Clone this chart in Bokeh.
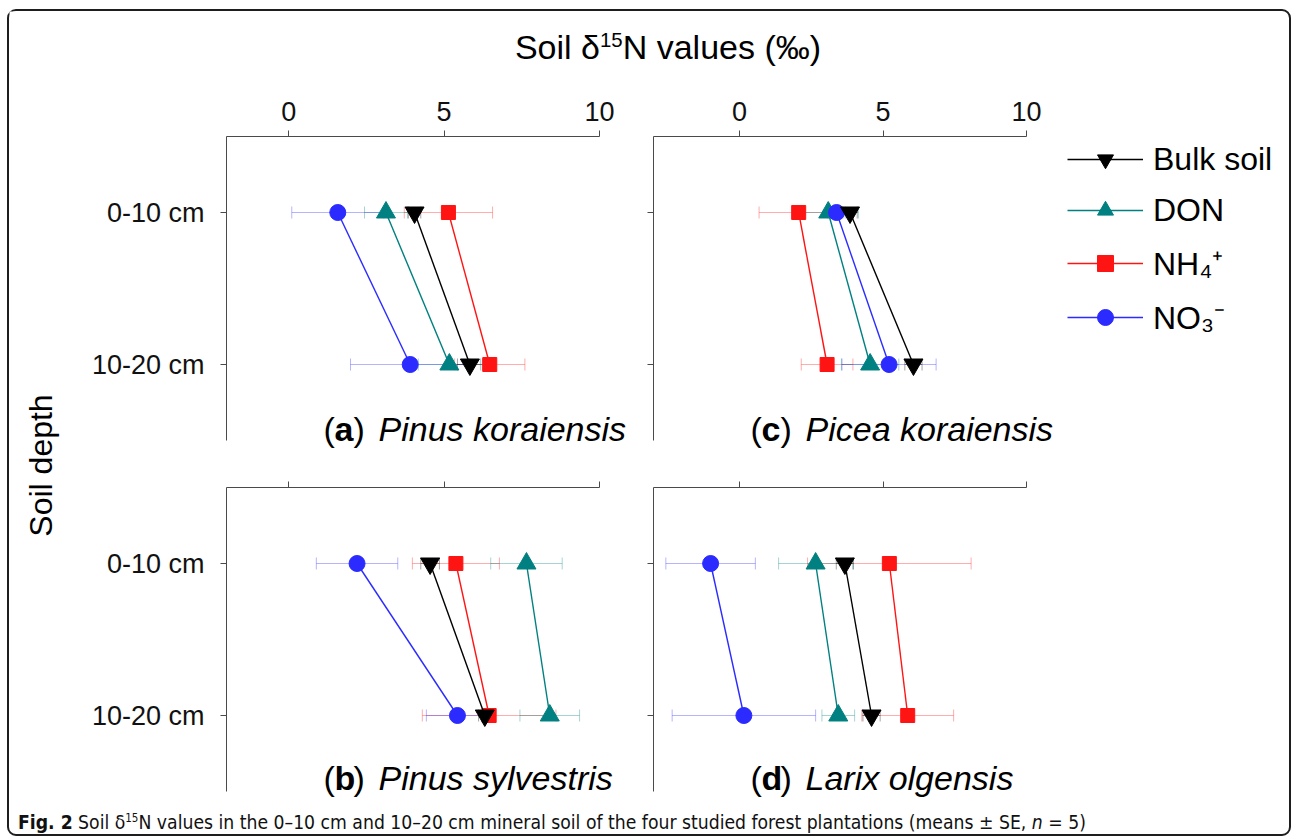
import math
from bokeh.plotting import figure
from bokeh.models import (Range1d, FixedTicker, ColumnDataSource, Whisker,
                          TeeHead, Label, Legend, LegendItem, Div)
from bokeh.layouts import column, row
from bokeh.embed import file_html
from bokeh.resources import INLINE

# ---------------- data ----------------
depths = ["0-10 cm", "10-20 cm"]
x_ticks = [0, 5, 10]
series_names = ["Bulk soil", "DON", "NH\u2084\u207a", "NO\u2083\u207b"]
series_colors = ["#000000", "#008080", "#ff1414", "#2b2bff"]
series_markers = ["inverted_triangle", "triangle", "square", "circle"]
marker_sizes = [19, 19, 14, 16]

# (a) Pinus koraiensis  -- [0-10 cm, 10-20 cm] means and SE
a_bulk, a_bulk_se = [4.05, 5.83], [0.20, 0.40]
a_don, a_don_se = [3.13, 5.17], [0.69, 1.00]
a_nh4, a_nh4_se = [5.14, 6.47], [1.42, 1.13]
a_no3, a_no3_se = [1.58, 3.91], [1.48, 1.92]
# (b) Pinus sylvestris
b_bulk, b_bulk_se = [4.55, 6.31], [0.30, 0.20]
b_don, b_don_se = [7.65, 8.40], [1.15, 0.96]
b_nh4, b_nh4_se = [5.38, 6.45], [1.40, 2.15]
b_no3, b_no3_se = [2.20, 5.43], [1.31, 1.00]
# (c) Picea koraiensis
c_bulk, c_bulk_se = [3.85, 6.06], [0.25, 0.30]
c_don, c_don_se = [3.09, 4.55], [1.05, 1.00]
c_nh4, c_nh4_se = [2.06, 3.05], [1.38, 0.90]
c_no3, c_no3_se = [3.38, 5.21], [0.30, 1.64]
# (d) Larix olgensis
d_bulk, d_bulk_se = [3.67, 4.60], [0.30, 0.30]
d_don, d_don_se = [2.65, 3.44], [1.29, 0.57]
d_nh4, d_nh4_se = [5.22, 5.86], [2.85, 1.60]
d_no3, d_no3_se = [-1.01, 0.15], [1.56, 2.50]

# category positions on the depth axis (one slot per depth class)
depth_pos = [i + 1 for i in range(len(depths))]

# ---------------- style ----------------
FONT = "Liberation Sans"
AX = "#4a4a4a"
FRAME_W = 373   # width of the axis span in px
FRAME_H = 304   # height of the axis span in px
X_MAX = 10
Y_LO, Y_HI = 0.5, len(depths) + 0.5
draw_order = [2, 1, 3, 0]


def make_panel(letter, species, x_min, means, ses, show_x_labels, show_y_labels,
               top_border, bottom_px, left_border, right_px):
    ppu_x = FRAME_W / (X_MAX - x_min)
    ppu_y = FRAME_H / (Y_HI - Y_LO)
    p = figure(width=left_border + FRAME_W + right_px,
               height=top_border + FRAME_H + bottom_px,
               x_range=Range1d(x_min, X_MAX + right_px / ppu_x),
               y_range=Range1d(Y_HI + bottom_px / ppu_y, Y_LO),
               x_axis_location="above", output_backend="svg", toolbar_location=None,
               min_border_left=left_border, min_border_right=0,
               min_border_top=top_border, min_border_bottom=0)
    p.outline_line_color = None
    p.xgrid.visible = False
    p.ygrid.visible = False
    p.background_fill_alpha = 0
    p.border_fill_alpha = 0

    xa = p.xaxis[0]
    xa.ticker = FixedTicker(ticks=x_ticks)
    xa.bounds = (x_min, X_MAX)
    xa.major_tick_in = 0
    xa.major_tick_out = 6
    xa.minor_tick_line_color = None
    xa.axis_line_color = AX
    xa.major_tick_line_color = AX
    xa.major_label_text_font = FONT
    xa.major_label_text_font_size = "27px"
    xa.major_label_text_color = "#111111"
    xa.major_label_standoff = 10
    if not show_x_labels:
        xa.major_label_overrides = {t: "" for t in x_ticks}

    ya = p.yaxis[0]
    ya.ticker = FixedTicker(ticks=depth_pos)
    ya.bounds = (Y_LO, Y_HI)
    ya.major_tick_in = 0
    ya.major_tick_out = 6
    ya.minor_tick_line_color = None
    ya.axis_line_color = AX
    ya.major_tick_line_color = AX
    ya.major_label_text_font = FONT
    ya.major_label_text_font_size = "27px"
    ya.major_label_text_color = "#111111"
    ya.major_label_standoff = 16
    ya.major_label_overrides = {pos: (d if show_y_labels else "") for pos, d in zip(depth_pos, depths)}

    rends = {}
    for i in draw_order:
        col = series_colors[i]
        m = means[i]
        s = ses[i]
        src = ColumnDataSource(dict(y=depth_pos, x=m,
                                    lower=[v - e for v, e in zip(m, s)],
                                    upper=[v + e for v, e in zip(m, s)]))
        w = Whisker(base="y", lower="lower", upper="upper", source=src, dimension="width",
                    level="underlay", line_color=col, line_alpha=0.35, line_width=1,
                    upper_head=TeeHead(size=12, line_color=col, line_alpha=0.35, line_width=1),
                    lower_head=TeeHead(size=12, line_color=col, line_alpha=0.35, line_width=1))
        p.add_layout(w)
        lr = p.line("x", "y", source=src, line_color=col, line_width=1.4)
        sr = p.scatter("x", "y", source=src, marker=series_markers[i], size=marker_sizes[i],
                       fill_color=col, line_color=col)
        rends[i] = [lr, sr]

    for txt, dx, style in [("(", 97, "normal"), (letter, 108, "bold"),
                           (")", 127, "normal"), (species, 152, "italic")]:
        p.add_layout(Label(x=dx, y=26, x_units="screen", y_units="screen", text=txt,
                           text_font=FONT, text_font_size="34px", text_font_style=style,
                           text_baseline="alphabetic", text_align="left", text_color="#000000"))
    return p, rends


fig_a, _ = make_panel("a", "Pinus koraiensis", -2,
                      [a_bulk, a_don, a_nh4, a_no3], [a_bulk_se, a_don_se, a_nh4_se, a_no3_se],
                      True, True, 65, 14, 146, 27)
fig_c, c_rends = make_panel("c", "Picea koraiensis", -3,
                            [c_bulk, c_don, c_nh4, c_no3], [c_bulk_se, c_don_se, c_nh4_se, c_no3_se],
                            True, False, 65, 14, 27, 263)
fig_b, _ = make_panel("b", "Pinus sylvestris", -2,
                      [b_bulk, b_don, b_nh4, b_no3], [b_bulk_se, b_don_se, b_nh4_se, b_no3_se],
                      False, True, 33, 12, 146, 27)
fig_d, _ = make_panel("d", "Larix olgensis", -3,
                      [d_bulk, d_don, d_nh4, d_no3], [d_bulk_se, d_don_se, d_nh4_se, d_no3_se],
                      False, False, 33, 12, 27, 263)

legend = Legend(items=[LegendItem(label=series_names[i], renderers=c_rends[i]) for i in range(4)],
                location=(414, 116), orientation="vertical", padding=0, margin=0, spacing=11,
                glyph_width=76, glyph_height=40, label_height=40, label_standoff=10,
                label_text_font=FONT, label_text_font_size="32px", label_text_color="#000000",
                border_line_color=None, background_fill_alpha=0)
fig_c.add_layout(legend)

# y-axis title
ylab_fig = figure(width=71, height=792, x_axis_type=None, y_axis_type=None, min_border=0,
                  output_backend="svg", toolbar_location=None,
                  x_range=Range1d(0, 1), y_range=Range1d(0, 1))
ylab_fig.outline_line_color = None
ylab_fig.xgrid.visible = False
ylab_fig.ygrid.visible = False
ylab_fig.add_layout(Label(x=31, y=338, x_units="screen", y_units="screen", text="Soil depth",
                          angle=math.pi / 2, text_align="center", text_baseline="middle",
                          text_font=FONT, text_font_size="32px", text_color="#000000"))

title_div = Div(
    text=('<div style="width:1176px;text-align:center;padding-top:17px;'
          "font-family:'Liberation Sans',Arial,sans-serif;font-size:34px;line-height:38px;"
          'color:#000;white-space:nowrap;">Soil &delta;<sup style="font-size:60%;'
          'vertical-align:super;line-height:0;">15</sup>N values (&permil;)</div>'),
    width=1209, height=60, margin=(0, 0, 0, 0))

caption_div = Div(
    text=('<div style="padding:9px 0 0 9px;'
          "font-family:'Liberation Sans Narrow','DejaVu Sans Condensed','Roboto',sans-serif;"
          'font-size:19.2px;line-height:22px;color:#111;white-space:nowrap;">'
          '<b>Fig. 2</b> Soil &delta;<sup style="font-size:60%;vertical-align:super;line-height:0;">15</sup>N '
          'values in the 0&ndash;10 cm and 10&ndash;20 cm mineral soil of the four studied forest '
          'plantations (means &plusmn; SE, <i>n</i> = 5)</div>'),
    width=1280, height=31, margin=(0, 0, 0, 0))

panels = column(title_div, row(fig_a, fig_c), row(fig_b, fig_d))
main = row(ylab_fig, panels)
outer = column(main, caption_div, margin=(9, 0, 0, 7),
               styles={"border": "2px solid #1e1e1e", "border-radius": "9px"})

open("out.html", "w").write(file_html(outer, INLINE))
